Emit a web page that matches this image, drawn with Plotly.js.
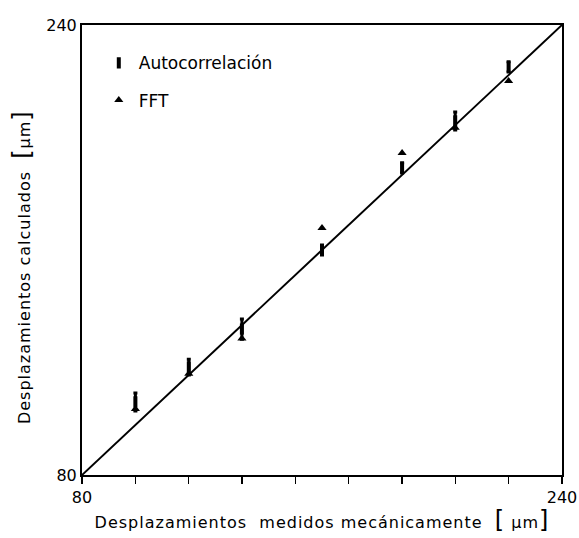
<!DOCTYPE html>
<html>
<head>
<meta charset="utf-8">
<script src="https://cdn.plot.ly/plotly-3.0.1.min.js"></script>
<style>
  html, body { margin: 0; padding: 0; background: #fff; }
  #chart { width: 579px; height: 538px; }
  /* typewriter-like spacing for the axis titles */
  #chart .xtitle, #chart .annotation-text { letter-spacing: 1px; }
</style>
</head>
<body>
<div id="chart"></div>
<script>
// Mechanical displacement steps (µm)
const medidos = [97.8, 115.6, 133.3, 160.0, 186.7, 204.4, 222.2];

// Autocorrelation estimates (µm) and their spread
const autocorrelacion = [106.0, 118.4, 131.9, 160.0, 189.2, 205.9, 225.1];
const autocorrError = [3.2, 2.8, 3.6, 1.8, 1.8, 3.2, 1.8];

// FFT estimates (µm)
const fft = [103.5, 116.0, 128.5, 167.8, 194.5, 203.5, 220.1];

// Ideal 1:1 reference line
const idealX = [80, 240];
const idealY = [80, 240];

// Axis ticks
const xTicks = [80, 97.78, 115.56, 133.33, 151.11, 168.89, 186.67, 204.44, 222.22, 240];
const xTickText = ['80', '', '', '', '', '', '', '', '', '240'];
const yTicks = [80, 240];
const yTickText = ['80', '240'];

const yTitle = 'Desplazamientos calculados  <span style="font-size:24px">[</span>μm<span style="font-size:24px">]</span>';
const xTitle = 'Desplazamientos  medidos mecánicamente  <span style="font-size:24px">[</span> μm<span style="font-size:24px">]</span>';

const FONT = 'DejaVu Sans, Liberation Sans, sans-serif';

const traces = [
  {
    x: idealX, y: idealY, mode: 'lines', showlegend: false,
    line: { color: '#000', width: 2 }, hoverinfo: 'skip'
  },
  {
    x: medidos, y: autocorrelacion, mode: 'markers', name: 'Autocorrelación',
    legendgroup: 'a',
    marker: { symbol: 'line-ns-open', size: 8, color: '#000',
              line: { color: '#000', width: 4 } },
    error_y: { type: 'data', array: autocorrError, visible: true,
               color: '#000', thickness: 3, width: 2 }
  },
  {
    x: medidos, y: fft, mode: 'markers', name: 'FFT',
    legendgroup: 'b',
    marker: { symbol: 'triangle-up', size: 8, color: '#000' }
  }
];

const layout = {
  width: 579, height: 538,
  margin: { l: 82, r: 17, t: 25, b: 63 },
  paper_bgcolor: '#fff', plot_bgcolor: '#fff',
  font: { family: FONT, color: '#000', size: 16 },
  showlegend: true,
  legend: {
    x: 0.035, y: 0.955, xanchor: 'left', yanchor: 'top',
    bgcolor: 'rgba(0,0,0,0)', borderwidth: 0,
    font: { family: FONT, size: 17, color: '#000' },
    traceorder: 'grouped', tracegroupgap: 12
  },
  xaxis: {
    range: [80, 240], showgrid: false, zeroline: false,
    showline: true, mirror: true, linecolor: '#000', linewidth: 2,
    tickmode: 'array', tickvals: xTicks, ticktext: xTickText,
    ticks: 'outside', ticklen: 7, tickwidth: 1.5, tickcolor: '#000',
    tickfont: { family: FONT, size: 16, color: '#000' },
    title: {
      text: xTitle,
      font: { family: FONT, size: 16, color: '#000' }, standoff: 11
    }
  },
  yaxis: {
    range: [80, 240], showgrid: false, zeroline: false,
    showline: true, mirror: true, linecolor: '#000', linewidth: 2,
    tickmode: 'array', tickvals: yTicks, ticktext: yTickText,
    ticks: '', tickfont: { family: FONT, size: 16, color: '#000' }
  },
  annotations: [{
    text: yTitle, textangle: -90, showarrow: false,
    xref: 'paper', yref: 'paper', x: -0.125, y: 0.462,
    xanchor: 'center', yanchor: 'middle',
    font: { family: FONT, size: 16, color: '#000' }
  }]
};

Plotly.newPlot('chart', traces, layout, { displayModeBar: false, staticPlot: true });
</script>
</body>
</html>
